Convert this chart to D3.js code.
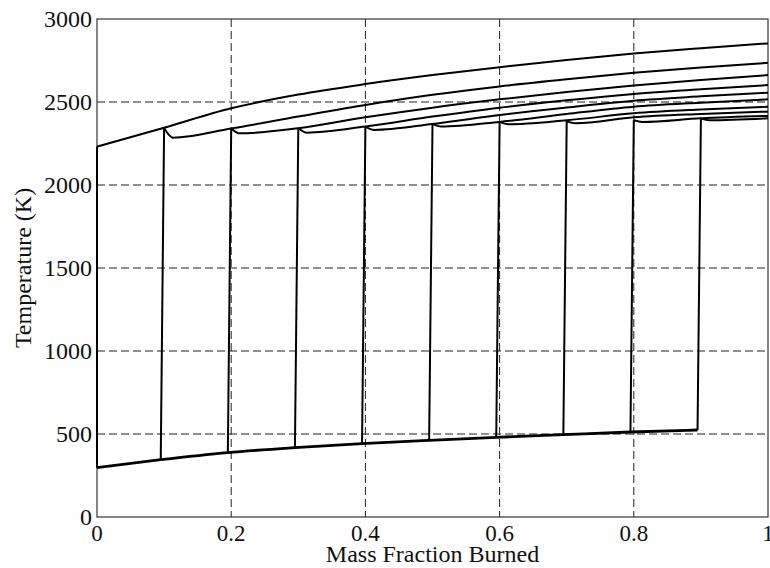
<!DOCTYPE html>
<html>
<head>
<meta charset="utf-8">
<script src="https://cdn.jsdelivr.net/npm/d3@7"></script>
<style>
  body { margin: 0; background: #fff; }
  svg { display: block; font-family: 'Liberation Serif', 'Times New Roman', serif; }
</style>
</head>
<body>
<svg id="chart" width="770" height="568"></svg>
<script>
// mass fraction burned grid
const mfb = [0, 0.1, 0.2, 0.3, 0.4, 0.5, 0.6, 0.7, 0.8, 0.9, 1.0];

// zone i burns at mfb[i]
const unburnedT = [297, 345, 388, 418, 442, 462, 480, 496, 512, 524];
const peakT = [2231, 2343, 2341, 2342, 2352, 2368, 2380, 2385, 2390, 2400];
const dipT = [null, 2285, 2311, 2315, 2332, 2352, 2366, 2372, 2380, 2390];

// burned temperature of each zone at mfb[i+1] .. mfb[10]
const burnedT = [
  [2345, 2462, 2545, 2608, 2662, 2710, 2753, 2792, 2824, 2853],
  [2340, 2412, 2482, 2543, 2594, 2637, 2676, 2708, 2736],
  [2342, 2408, 2466, 2516, 2560, 2600, 2633, 2662],
  [2352, 2412, 2466, 2510, 2548, 2577, 2602],
  [2368, 2422, 2467, 2508, 2534, 2556],
  [2380, 2428, 2472, 2496, 2516],
  [2390, 2432, 2455, 2472],
  [2408, 2428, 2442],
  [2402, 2416],
  [2402],
];

const xTicks = [0, 0.2, 0.4, 0.6, 0.8, 1];
const yTicks = [0, 500, 1000, 1500, 2000, 2500, 3000];

const burnLag = 0.005;
const hookW = 0.013;

const margin = { top: 19, right: 2, bottom: 51, left: 97 };
const width = 770 - margin.left - margin.right;
const height = 568 - margin.top - margin.bottom;

const svg = d3.select('#chart');
const g = svg.append('g').attr('transform', `translate(${margin.left},${margin.top})`);

const x = d3.scaleLinear().domain([0, 1]).range([0, width]);
const y = d3.scaleLinear().domain([0, 3000]).range([height, 0]);

// dashed grid
g.append('g')
  .selectAll('line')
  .data(xTicks.slice(1, -1))
  .join('line')
  .attr('x1', (d) => x(d))
  .attr('x2', (d) => x(d))
  .attr('y1', 0)
  .attr('y2', height)
  .attr('stroke', '#222')
  .attr('stroke-width', 1)
  .attr('stroke-dasharray', '8,4');

g.append('g')
  .selectAll('line')
  .data(yTicks.slice(1, -1))
  .join('line')
  .attr('x1', 0)
  .attr('x2', width)
  .attr('y1', (d) => y(d))
  .attr('y2', (d) => y(d))
  .attr('stroke', '#222')
  .attr('stroke-width', 1)
  .attr('stroke-dasharray', '8,4');

// frame
g.append('rect')
  .attr('width', width)
  .attr('height', height)
  .attr('fill', 'none')
  .attr('stroke', '#444')
  .attr('stroke-width', 1.3);

const lineMono = d3
  .line()
  .x((d) => x(d[0]))
  .y((d) => y(d[1]))
  .curve(d3.curveMonotoneX);

const lineStraight = d3
  .line()
  .x((d) => x(d[0]))
  .y((d) => y(d[1]));

// unburned zone
const unburnedPts = unburnedT.map((t, i) => [Math.max(0, mfb[i] - burnLag), t]);
g.append('path')
  .attr('d', lineMono(unburnedPts))
  .attr('fill', 'none')
  .attr('stroke', '#000')
  .attr('stroke-width', 2.8);

// combustion jumps
g.append('g')
  .selectAll('path')
  .data(peakT)
  .join('path')
  .attr('d', (d, i) =>
    lineStraight([
      [Math.max(0, mfb[i] - burnLag), unburnedT[i]],
      [mfb[i], d],
    ])
  )
  .attr('fill', 'none')
  .attr('stroke', '#000')
  .attr('stroke-width', 2);

// burned zones
g.append('g')
  .selectAll('path')
  .data(burnedT)
  .join('path')
  .attr('d', (row, i) => {
    const pts = [[mfb[i], peakT[i]]];
    if (dipT[i] !== null) pts.push([mfb[i] + hookW, dipT[i]]);
    row.forEach((t, j) => pts.push([mfb[i + 1 + j], t]));
    return lineMono(pts);
  })
  .attr('fill', 'none')
  .attr('stroke', '#000')
  .attr('stroke-width', 2)
  .attr('stroke-linejoin', 'round');

// tick labels
g.append('g')
  .selectAll('text')
  .data(xTicks)
  .join('text')
  .attr('x', (d) => x(d))
  .attr('y', height + 24)
  .attr('text-anchor', 'middle')
  .attr('font-size', 23)
  .attr('fill', '#111')
  .text((d) => d3.format('~g')(d));

g.append('g')
  .selectAll('text')
  .data(yTicks)
  .join('text')
  .attr('x', -5)
  .attr('y', (d) => y(d))
  .attr('dy', '0.35em')
  .attr('text-anchor', 'end')
  .attr('font-size', 24)
  .attr('fill', '#111')
  .text((d) => d);

// axis titles
svg.append('text')
  .attr('x', margin.left + width / 2)
  .attr('y', 562)
  .attr('text-anchor', 'middle')
  .attr('font-size', 24)
  .attr('fill', '#111')
  .text('Mass Fraction Burned');

svg.append('text')
  .attr('transform', `translate(31,${margin.top + height / 2}) rotate(-90)`)
  .attr('text-anchor', 'middle')
  .attr('font-size', 24)
  .attr('fill', '#111')
  .text('Temperature (K)');
</script>
</body>
</html>
